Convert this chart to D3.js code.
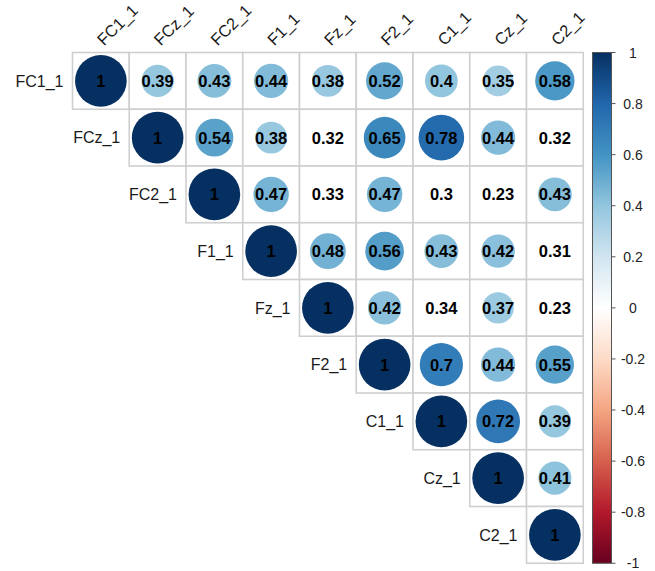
<!DOCTYPE html>
<html>
<head>
<meta charset="utf-8">
<script src="https://cdn.jsdelivr.net/npm/d3@7"></script>
<style>
  html, body { margin: 0; padding: 0; background: #fff; }
  svg { display: block; font-family: "Liberation Sans", Arial, sans-serif; }
</style>
</head>
<body>
<svg id="chart" width="655" height="571"></svg>
<script>
// Channel names, in matrix order
const channels = ["FC1_1", "FCz_1", "FC2_1", "F1_1", "Fz_1", "F2_1", "C1_1", "Cz_1", "C2_1"];

// Upper-triangle correlation coefficients, row by row (from the diagonal rightwards)
const rowFC1 = [1, 0.39, 0.43, 0.44, 0.38, 0.52, 0.40, 0.35, 0.58];
const rowFCz = [1, 0.54, 0.38, 0.32, 0.65, 0.78, 0.44, 0.32];
const rowFC2 = [1, 0.47, 0.33, 0.47, 0.30, 0.23, 0.43];
const rowF1  = [1, 0.48, 0.56, 0.43, 0.42, 0.31];
const rowFz  = [1, 0.42, 0.34, 0.37, 0.23];
const rowF2  = [1, 0.70, 0.44, 0.55];
const rowC1  = [1, 0.72, 0.39];
const rowCz  = [1, 0.41];
const rowC2  = [1];
const coefRows = [rowFC1, rowFCz, rowFC2, rowF1, rowFz, rowF2, rowC1, rowCz, rowC2];

// Significance flags (1 = significant, circle drawn; 0 = coefficient only)
const sigFC1 = [1, 1, 1, 1, 1, 1, 1, 1, 1];
const sigFCz = [1, 1, 1, 0, 1, 1, 1, 0];
const sigFC2 = [1, 1, 0, 1, 0, 0, 1];
const sigF1  = [1, 1, 1, 1, 1, 0];
const sigFz  = [1, 1, 0, 1, 0];
const sigF2  = [1, 1, 1, 1];
const sigC1  = [1, 1, 1];
const sigCz  = [1, 1];
const sigC2  = [1];
const sigRows = [sigFC1, sigFCz, sigFC2, sigF1, sigFz, sigF2, sigC1, sigCz, sigC2];

// Colour bar ticks
const legendTicks = [1, 0.8, 0.6, 0.4, 0.2, 0, -0.2, -0.4, -0.6, -0.8, -1];

// Diverging red–white–blue palette
const paletteStops = ["#67001F", "#B2182B", "#D6604D", "#F4A582", "#FDDBC7", "#FFFFFF",
                      "#D1E5F0", "#92C5DE", "#4393C3", "#2166AC", "#053061"];

// Flatten to cells
const cells = [];
coefRows.forEach((row, i) => {
  row.forEach((v, k) => {
    const j = i + k;
    cells.push({ i, j, r: v, sig: sigRows[i][k] === 1 });
  });
});

const svg = d3.select("#chart");

const x0 = 72.5, y0 = 52.5, size = 56.75 * channels.length;
const xScale = d3.scaleBand().domain(d3.range(channels.length)).range([x0, x0 + size]);
const yScale = d3.scaleBand().domain(d3.range(channels.length)).range([y0, y0 + size]);
const cw = xScale.bandwidth();

const color = d3.scaleLinear()
  .domain(d3.range(paletteStops.length).map(k => -1 + 2 * k / (paletteStops.length - 1)))
  .range(paletteStops)
  .interpolate(d3.interpolateRgb);

// radius proportional to sqrt(|r|)
const radius = d3.scaleSqrt().domain([0, 1]).range([0, cw * 0.455]);

// grid cells
svg.append("g")
  .selectAll("rect")
  .data(cells)
  .join("rect")
  .attr("x", d => xScale(d.j))
  .attr("y", d => yScale(d.i))
  .attr("width", cw)
  .attr("height", cw)
  .attr("fill", "#fff")
  .attr("stroke", "#cfcfcf")
  .attr("stroke-width", 1.6);

// circles
svg.append("g")
  .selectAll("circle")
  .data(cells.filter(d => d.sig))
  .join("circle")
  .attr("cx", d => xScale(d.j) + cw / 2)
  .attr("cy", d => yScale(d.i) + cw / 2)
  .attr("r", d => radius(Math.abs(d.r)))
  .attr("fill", d => color(d.r));

// coefficients
const fmt = v => (v === 1 ? "1" : String(+v.toFixed(2)));
svg.append("g")
  .selectAll("text")
  .data(cells)
  .join("text")
  .attr("x", d => xScale(d.j) + cw / 2)
  .attr("y", d => yScale(d.i) + cw / 2)
  .attr("dy", "0.36em")
  .attr("text-anchor", "middle")
  .attr("font-size", 16.5)
  .attr("font-weight", "bold")
  .attr("fill", "#000")
  .text(d => fmt(d.r));

// row labels
svg.append("g")
  .selectAll("text")
  .data(channels)
  .join("text")
  .attr("x", (d, i) => xScale(i) - 9)
  .attr("y", (d, i) => yScale(i) + cw / 2)
  .attr("dy", "0.36em")
  .attr("text-anchor", "end")
  .attr("font-size", 16)
  .attr("fill", "#1a1a1a")
  .text(d => d);

// column labels, rotated 45°
svg.append("g")
  .selectAll("text")
  .data(channels)
  .join("text")
  .attr("transform", (d, i) => `translate(${xScale(i) + cw / 2 + 3},${y0 - 6}) rotate(-45)`)
  .attr("text-anchor", "start")
  .attr("font-size", 16.5)
  .attr("fill", "#1a1a1a")
  .text(d => d);

// colour bar
const barX = 592.5, barW = 19;
const legendY = d3.scaleLinear().domain([1, -1]).range([y0, y0 + size]);

const grad = svg.append("defs").append("linearGradient")
  .attr("id", "corrGrad")
  .attr("x1", 0).attr("y1", 1).attr("x2", 0).attr("y2", 0);
grad.selectAll("stop")
  .data(paletteStops)
  .join("stop")
  .attr("offset", (d, k) => k / (paletteStops.length - 1))
  .attr("stop-color", d => d);

svg.append("rect")
  .attr("x", barX)
  .attr("y", legendY(1))
  .attr("width", barW)
  .attr("height", legendY(-1) - legendY(1))
  .attr("fill", "url(#corrGrad)")
  .attr("stroke", "#555")
  .attr("stroke-width", 1);

const legendAxis = svg.append("g");
legendAxis.selectAll("line")
  .data(legendTicks)
  .join("line")
  .attr("x1", barX + barW)
  .attr("x2", barX + barW + 4)
  .attr("y1", d => legendY(d))
  .attr("y2", d => legendY(d))
  .attr("stroke", "#555")
  .attr("stroke-width", 1);
legendAxis.selectAll("text")
  .data(legendTicks)
  .join("text")
  .attr("x", 633)
  .attr("y", d => legendY(d))
  .attr("dy", "0.36em")
  .attr("text-anchor", "middle")
  .attr("font-size", 14)
  .attr("fill", "#222")
  .text(d => String(d));
</script>
</body>
</html>
